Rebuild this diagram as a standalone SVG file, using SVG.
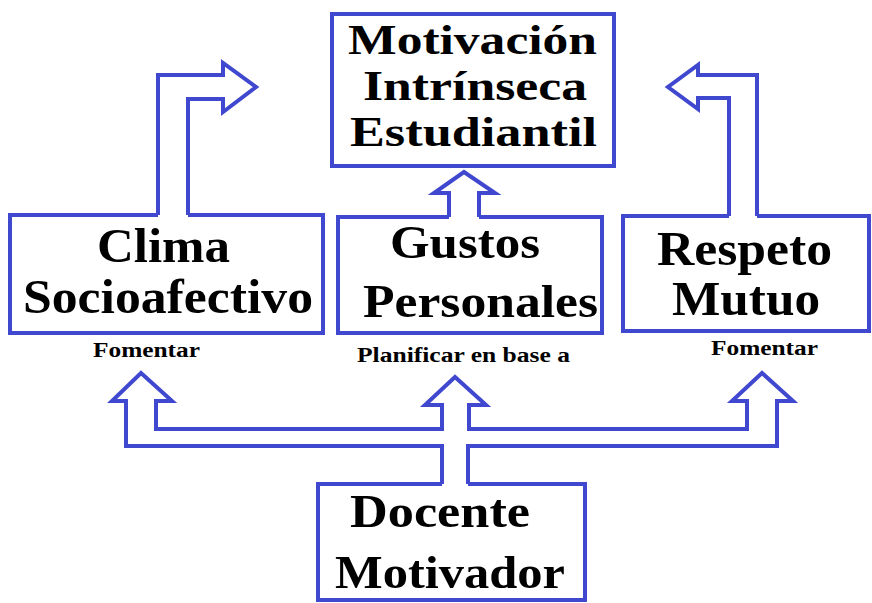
<svg xmlns="http://www.w3.org/2000/svg" width="872" height="603" viewBox="0 0 872 603">
<style>
.b{fill:none;stroke:#4048cf;stroke-width:4;stroke-linejoin:miter}
.t{font-family:"Liberation Serif","Times New Roman",serif;font-weight:bold;fill:#000}
.big{font-size:48px}
.top{font-size:43px}
.mid{font-size:46px}
.lab{font-size:20px}
</style>
<rect width="872" height="603" fill="#fff"/>
<g id="motivacion">
<rect class="b" x="332" y="14" width="282" height="152"/>
<text class="t top" x="348" y="54" textLength="249" lengthAdjust="spacingAndGlyphs">Motivación</text>
<text class="t top" x="363" y="100" textLength="224" lengthAdjust="spacingAndGlyphs">Intrínseca</text>
<text class="t top" x="350" y="146" textLength="247" lengthAdjust="spacingAndGlyphs">Estudiantil</text>
</g>
<g id="clima">
<path class="b" d="M158,215 H10 V333 H323 V215 H188"/>
<text class="t big" x="97" y="262" textLength="133" lengthAdjust="spacingAndGlyphs">Clima</text>
<text class="t big" x="23" y="313" textLength="290" lengthAdjust="spacingAndGlyphs">Socioafectivo</text>
</g>
<g id="gustos">
<path class="b" d="M449,217 H338 V333 H602 V217 H479"/>
<text class="t mid" x="390" y="258" textLength="150" lengthAdjust="spacingAndGlyphs">Gustos</text>
<text class="t mid" x="363" y="317" textLength="235" lengthAdjust="spacingAndGlyphs">Personales</text>
</g>
<g id="respeto">
<path class="b" d="M729,216 H623 V331 H869 V216 H757"/>
<text class="t big" x="657" y="265" textLength="175" lengthAdjust="spacingAndGlyphs">Respeto</text>
<text class="t big" x="672" y="315" textLength="148" lengthAdjust="spacingAndGlyphs">Mutuo</text>
</g>
<g id="docente">
<path class="b" d="M442,484 H318 V600 H585 V484 H468"/>
<text class="t mid" x="350" y="527" textLength="180" lengthAdjust="spacingAndGlyphs">Docente</text>
<text class="t mid" x="335" y="588" textLength="230" lengthAdjust="spacingAndGlyphs">Motivador</text>
</g>
<g id="connectors">
<path class="b" d="M158,215 V75 H223 V63 L256,87 L223,112 V99 H188 V215"/>
<path class="b" d="M449,217 V193 H434 L464,172 L495,193 H479 V217"/>
<path class="b" d="M729,216 V98 H698 V109 L668,87 L698,65 V75 H757 V216"/>
<path class="b" d="M442,484 V446 H126 V401 H112 L141,373 L172,401 H156 V429 H442 V405 H425 L455,377 L486,405 H469 V429 H747 V401 H732 L762,373 L793,401 H777 V446 H468 V484"/>
<text class="t lab" x="93" y="357" textLength="107" lengthAdjust="spacingAndGlyphs">Fomentar</text>
<text class="t lab" x="357" y="362" textLength="213" lengthAdjust="spacingAndGlyphs">Planificar en base a</text>
<text class="t lab" x="711" y="355" textLength="107" lengthAdjust="spacingAndGlyphs">Fomentar</text>
</g>
</svg>
